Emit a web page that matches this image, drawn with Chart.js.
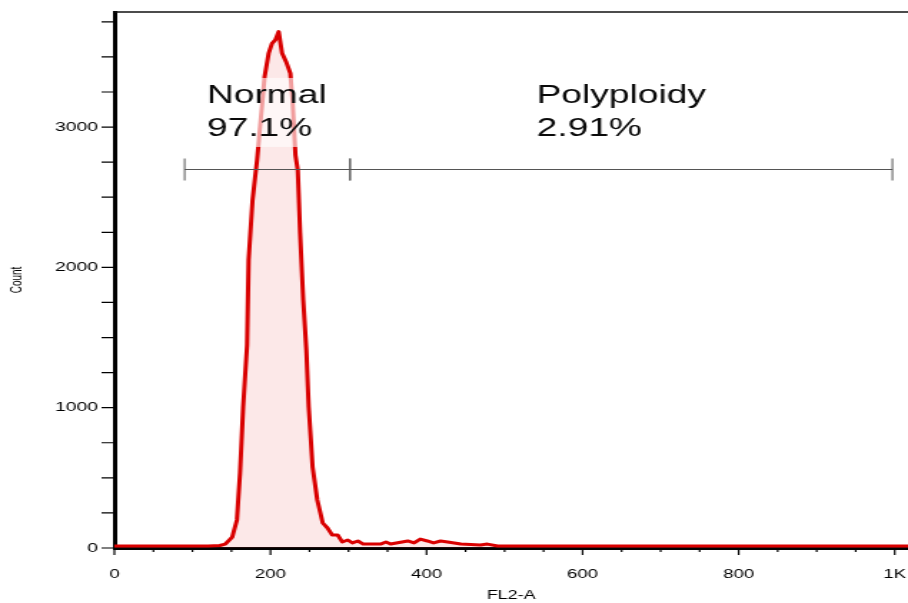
<!DOCTYPE html>
<html><head>
<meta charset="utf-8">
<title>FL2-A histogram</title>
<script src="https://cdn.jsdelivr.net/npm/chart.js@4"></script>
<style>
  html, body { margin:0; padding:0; background:#fff; overflow:hidden }
  /* the source plot is stretched sideways, so draw narrow and widen it */
  #wrap { width:635px; height:603px; transform:scaleX(1.4299); transform-origin:0 0 }
</style>
</head><body>
<div id="wrap"><canvas id="chart" width="635" height="603"></canvas></div>
<script>
// histogram trace
const fl2 = [0, 40, 80, 120, 135, 142, 151, 157, 161, 165, 170, 172, 177, 182.8, 192.5, 197.7, 202, 206.3, 210.5,
  214.9, 220, 225.5, 228.5, 232, 235, 238, 242, 246, 249, 254, 260, 267, 273, 279, 286, 292, 299, 305, 312, 319,
  341, 348, 354, 376, 384, 392, 401, 409, 418, 427, 444, 469, 478, 491, 520, 600, 700, 800, 900, 1017];
const counts = [14, 14, 14, 15, 18, 28, 78, 200, 535, 1005, 1447, 2053, 2480, 2765, 3359, 3526, 3597, 3621, 3680,
  3526, 3466, 3383, 3170, 2800, 2694, 2245, 1768, 1411, 1005, 577, 342, 178, 143, 93, 93, 43, 57, 36, 50, 28,
  28, 43, 28, 50, 36, 64, 50, 36, 50, 43, 28, 21, 28, 14, 14, 14, 14, 14, 14, 14];

// gates
const gateNames = ['Normal', 'Polyploidy'];
const gatePercents = ['97.1%', '2.91%'];
const gateStart = [90, 302];
const gateEnd = [302, 997];
const gateLevel = 2701;

const xTickLabels = { 0: '0', 200: '200', 400: '400', 600: '600', 800: '800', 1000: '1K' };
const yTickLabels = [0, 1000, 2000, 3000];

const FONT = '"Liberation Sans", Arial, sans-serif';

const overlay = {
  id: 'overlay',
  afterDatasetsDraw(chart) {
    const { ctx, chartArea: ca, scales: { x, y } } = chart;
    ctx.save();
    // translucent label backing (sits over the peak)
    ctx.fillStyle = 'rgba(255,255,255,0.62)';
    const bx = x.getPixelForValue(110), bw = x.getPixelForValue(283) - bx;
    const by = y.getPixelForValue(3350), bh = y.getPixelForValue(2858) - by;
    ctx.fillRect(bx, by, bw, bh);

    // gate labels
    ctx.fillStyle = '#0a0a0a';
    ctx.font = '26px ' + FONT;
    ctx.textBaseline = 'alphabetic';
    ctx.textAlign = 'left';
    const textX = [118.6, 541];
    gateNames.forEach((name, i) => {
      const tx = x.getPixelForValue(textX[i]);
      ctx.fillText(name, tx, y.getPixelForValue(3172));
      ctx.fillText(gatePercents[i], tx, y.getPixelForValue(2935));
    });

    // gate bars
    ctx.strokeStyle = '#555';
    ctx.lineWidth = 1;
    const gy = Math.round(y.getPixelForValue(gateLevel)) + 0.5;
    gateNames.forEach((_, i) => {
      const x0 = x.getPixelForValue(gateStart[i]), x1 = x.getPixelForValue(gateEnd[i]);
      ctx.beginPath();
      ctx.moveTo(x0, gy); ctx.lineTo(x1, gy);
      ctx.moveTo(x0, gy - 11); ctx.lineTo(x0, gy + 11);
      ctx.moveTo(x1, gy - 11); ctx.lineTo(x1, gy + 11);
      ctx.stroke();
    });

    // top frame line
    ctx.strokeStyle = '#111';
    ctx.lineWidth = 1.5;
    ctx.beginPath();
    ctx.moveTo(ca.left, ca.top); ctx.lineTo(ca.right, ca.top);
    ctx.stroke();

    // tick marks
    ctx.strokeStyle = '#000';
    ctx.lineWidth = 1.2;
    ctx.beginPath();
    for (let v = 0; v <= 1000; v += 50) {
      const px = x.getPixelForValue(v);
      const len = v % 200 === 0 ? 7 : 4;
      ctx.moveTo(px, ca.bottom); ctx.lineTo(px, ca.bottom + len);
    }
    for (let v = 0; v <= 3750; v += 250) {
      const py = y.getPixelForValue(v);
      ctx.moveTo(ca.left, py); ctx.lineTo(ca.left - 9, py);
    }
    ctx.stroke();
    ctx.restore();
  }
};

new Chart(document.getElementById('chart'), {
  type: 'line',
  data: {
    datasets: [{
      data: fl2.map((v, i) => ({ x: v, y: counts[i] })),
      borderColor: '#d90000',
      borderWidth: 3,
      borderJoinStyle: 'round',
      backgroundColor: 'rgba(230,80,80,0.13)',
      fill: 'origin',
      pointRadius: 0,
      tension: 0,
      clip: false
    }]
  },
  options: {
    responsive: false,
    animation: false,
    layout: { padding: { top: 12, left: 0, right: 0, bottom: 0 } },
    plugins: { legend: { display: false }, tooltip: { enabled: false } },
    scales: {
      x: {
        type: 'linear', min: 0, max: 1017,
        afterFit: s => { s.height = 55; s.paddingLeft = 0; s.paddingRight = 0; },
        grid: { drawOnChartArea: false, drawTicks: false },
        border: { display: true, width: 3, color: '#000' },
        ticks: {
          stepSize: 50, includeBounds: false, autoSkip: false, maxRotation: 0,
          padding: 19, color: '#000', font: { family: FONT, size: 13 },
          callback: v => xTickLabels[v] || ''
        },
        title: { display: true, text: 'FL2-A', color: '#000', padding: { top: 0, bottom: 0 },
          font: { family: FONT, size: 12.5 } }
      },
      y: {
        type: 'linear', min: 0, max: 3820,
        afterFit: s => { s.width = 80; s.paddingTop = 0; s.paddingBottom = 0; },
        grid: { drawOnChartArea: false, drawTicks: false },
        border: { display: true, width: 3, color: '#000' },
        ticks: {
          stepSize: 250, includeBounds: false, autoSkip: false,
          padding: 11.5, color: '#000', font: { family: FONT, size: 13.5 },
          callback: v => yTickLabels.includes(v) ? String(v) : ''
        },
        title: { display: true, text: 'Count', color: '#000', padding: { top: 6, bottom: 0 },
          font: { family: FONT, size: 10 } }
      }
    }
  },
  plugins: [overlay]
});
</script>
</body></html>
